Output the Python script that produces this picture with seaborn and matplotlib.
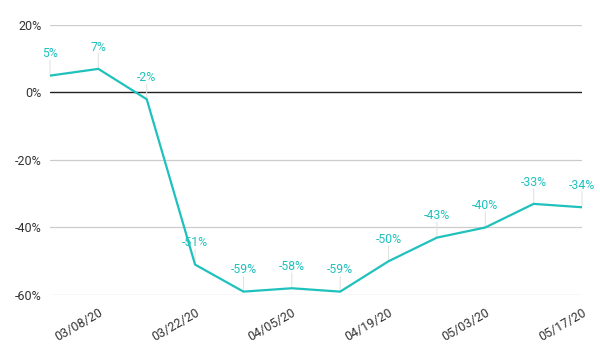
import matplotlib
matplotlib.use("Agg")
import matplotlib.pyplot as plt
import seaborn as sns
import pandas as pd

dates = ["2020-03-01", "2020-03-08", "2020-03-15", "2020-03-22", "2020-03-29", "2020-04-05",
         "2020-04-12", "2020-04-19", "2020-04-26", "2020-05-03", "2020-05-10", "2020-05-17"]
values = [5, 7, -2, -51, -59, -58, -59, -50, -43, -40, -33, -34]
yticks = [20, 0, -20, -40, -60]

df = pd.DataFrame({"date": pd.to_datetime(dates), "value": values})

sns.set_theme(style="white")
plt.rcParams['font.family'] = ['Roboto', 'DejaVu Sans']

teal = "#1FC1BC"
fig = plt.figure(figsize=(6.0, 3.52), dpi=100)
ax = fig.add_axes([50/600, 1-295/352, 532/600, 270/352])

for y in yticks:
    if y == 0:
        ax.axhline(y, color="#222222", lw=1.0, zorder=1)
    else:
        ax.axhline(y, color="#cccccc", lw=0.9, zorder=0)

sns.lineplot(data=df, x="date", y="value", ax=ax, color=teal, lw=1.6, zorder=3)

for d, v in zip(df["date"], values):
    ax.annotate("", xy=(d, v), xytext=(0, 11), textcoords="offset points",
                xycoords="data",
                arrowprops=dict(arrowstyle="-", color="#e3e3e3", lw=0.8, shrinkA=0, shrinkB=0),
                zorder=2)
    ax.annotate(f"{v}%", xy=(d, v), xytext=(0, 11), textcoords="offset points",
                ha="center", va="bottom", color=teal, fontsize=8.8, zorder=4)

ax.set_xlim(df["date"].iloc[0], df["date"].iloc[-1])
ax.set_ylim(-60, 20)
ax.set_yticks(yticks)
ax.set_yticklabels([f"{y}%" for y in yticks], color="#333333", fontsize=9)
tick_dates = df["date"].iloc[1::2]
ax.set_xticks(tick_dates)
ax.set_xticklabels([d.strftime("%m/%d/%y") for d in tick_dates], rotation=30,
                   ha="right", rotation_mode="anchor", color="#333333", fontsize=9)
ax.tick_params(axis="both", length=0, pad=6)
ax.tick_params(axis="x", pad=8)
for s in ax.spines.values():
    s.set_visible(False)
ax.set_xlabel("")
ax.set_ylabel("")

fig.savefig("out.png", dpi=100)
